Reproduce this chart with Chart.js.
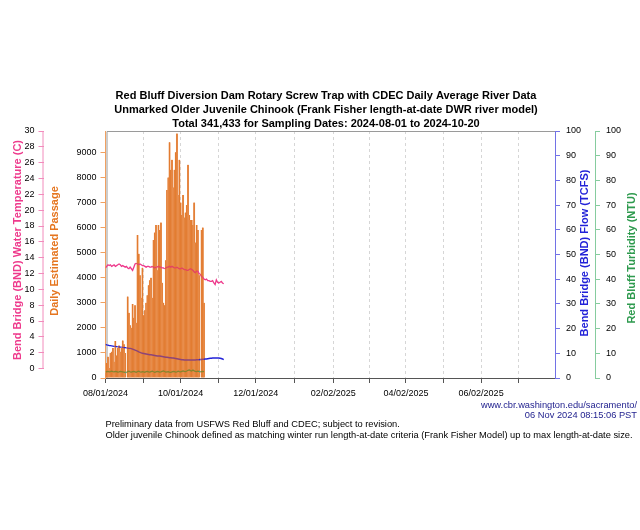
<!DOCTYPE html>
<html>
<head>
<meta charset="utf-8">
<title>Red Bluff RST - Older Juvenile Chinook</title>
<script src="https://cdn.jsdelivr.net/npm/chart.js@4.4.1/dist/chart.umd.min.js"></script>
<style>
  html, body { margin: 0; padding: 0; background: #fff; }
  #chart { display: block; }
</style>
</head>
<body>
<canvas id="chart" width="640" height="530"></canvas>
<script>
// Daily values, day 0 = 2024-08-01
const passage = [
  200, 600, 850, 400, 1000, 1050, 1200, 650, 1480, 900,
  1200, 1300, 1050, 1200, 1500, 1350, 1000, 0, 3250, 2600,
  2100, 2000, 2950, 2400, 2900, 2200, 5700, 4950, 4100, 3200,
  4400, 2500, 2700, 3000, 3300, 3700, 3900, 4000, 3200, 5500,
  5800, 6100, 4300, 6100, 5900, 6200, 3800, 3000, 2900, 4700,
  7500, 8000, 9400, 8300, 8700, 7600, 8300, 9000, 9750, 7300,
  8700, 7000, 6500, 7300, 6400, 6600, 6900, 8500, 6500, 6300,
  6300, 6100, 7000, 5400, 6100, 5900, 4100, 0, 5900, 6000,
  3000
];
const waterTemp = [
  12.7, 12.9, 13.1, 13.0, 13.1, 12.9, 13.0, 13.1, 12.9, 13.0,
  13.1, 13.2, 13.1, 12.9, 13.0, 12.9, 12.8, 12.9, 12.7, 12.6,
  12.8, 12.6, 12.4, 12.8, 13.2, 13.3, 13.2, 13.1, 13.2, 13.1,
  13.0, 13.0, 12.9, 12.8, 12.9, 12.9, 12.8, 12.8, 12.9, 12.8,
  12.7, 12.8, 12.8, 12.9, 12.8, 12.8, 12.7, 12.7, 12.6, 12.7,
  12.8, 12.8, 12.9, 12.8, 12.9, 12.8, 12.7, 12.7, 12.8, 12.7,
  12.6, 12.6, 12.7, 12.6, 12.5, 12.5, 12.4, 12.4, 12.5, 12.6,
  12.5, 12.4, 12.2, 12.1, 12.3, 12.3, 12.0, 11.9, 11.6, 11.5,
  11.3, 11.2, 11.3, 11.1, 11.1, 11.0, 11.0, 11.1, 10.8, 10.6,
  11.2, 10.9, 10.8, 10.9, 11.0, 10.8, 10.7
];
const flow = [
  13.6, 13.4, 13.3, 13.1, 13.1, 13.0, 12.9, 12.8, 12.8, 12.7,
  12.6, 12.6, 12.5, 12.5, 12.4, 12.3, 12.3, 12.2, 12.1, 12.0,
  12.0, 11.9, 11.7, 11.5, 11.3, 11.1, 10.9, 10.6, 10.4, 10.2,
  10.0, 9.9, 9.8, 9.7, 9.6, 9.5, 9.4, 9.4, 9.3, 9.2,
  9.1, 9.0, 8.9, 8.9, 8.9, 8.8, 8.7, 8.6, 8.5, 8.4,
  8.4, 8.3, 8.2, 8.2, 8.1, 8.1, 8.0, 7.9, 7.8, 7.7,
  7.6, 7.5, 7.4, 7.4, 7.3, 7.3, 7.3, 7.3, 7.3, 7.3,
  7.3, 7.3, 7.3, 7.3, 7.4, 7.4, 7.4, 7.5, 7.5, 7.6,
  7.6, 7.7, 7.7, 7.8, 7.9, 8.0, 8.0, 8.1, 8.1, 8.1,
  8.1, 8.1, 8.1, 8.0, 7.9, 7.7, 7.4
];
const turbidity = [
  2.4, 2.6, 2.7, 2.5, 2.6, 2.8, 2.6, 2.5, 2.7, 2.6,
  2.4, 2.5, 2.7, 2.6, 2.5, 2.4, 2.3, 2.2, 2.6, 2.8,
  2.5, 2.4, 2.6, 2.7, 2.5, 2.3, 2.6, 2.8, 2.5, 2.4,
  2.6, 2.5, 2.3, 2.6, 2.7, 2.5, 2.4, 2.6, 2.8, 2.5,
  2.3, 2.5, 2.7, 2.6, 2.4, 2.5, 2.7, 2.9, 2.6, 2.4,
  2.5, 2.6, 2.4, 2.3, 2.5, 2.7, 2.6, 2.4, 2.5, 2.8,
  2.6, 2.5, 2.7, 2.9, 2.7, 2.6, 2.8, 3.1, 3.3, 3.0,
  2.8, 3.2, 2.9, 2.7, 2.6, 2.8, 2.7, 2.5, 2.6, 2.7,
  2.6
];

// Axis ticks (x in days since 2024-08-01)
const xTickDays = [0, 30.5, 61, 91.5, 122, 153.5, 185, 214.5, 244, 274.5, 305, 335.5];
const xTickLabels = ['08/01/2024', '', '10/01/2024', '', '12/01/2024', '', '02/02/2025', '', '04/02/2025', '', '06/02/2025', ''];
const passTicks = [0, 1000, 2000, 3000, 4000, 5000, 6000, 7000, 8000, 9000];
const tempTicks = [0, 2, 4, 6, 8, 10, 12, 14, 16, 18, 20, 22, 24, 26, 28, 30];
const flowTicks = [0, 10, 20, 30, 40, 50, 60, 70, 80, 90, 100];
const turbTicks = [0, 10, 20, 30, 40, 50, 60, 70, 80, 90, 100];

const titleLines = [
  'Red Bluff Diversion Dam Rotary Screw Trap with CDEC Daily Average River Data',
  'Unmarked Older Juvenile Chinook (Frank Fisher length-at-date DWR river model)',
  'Total 341,433 for Sampling Dates: 2024-08-01 to 2024-10-20'
];

const FONT = "'Liberation Sans', Arial, Helvetica, sans-serif";
Chart.defaults.font.family = FONT;
Chart.defaults.font.size = 9;
Chart.defaults.color = '#000';

const PINK = '#ee3a8c', ORANGE = '#e5751f', BLUE = '#2222d8', GREEN = '#2e9a4e';

const toPoints = arr => arr.map((v, i) => ({ x: i, y: v }));
const fixedTicks = values => scale => { scale.ticks = values.map(v => ({ value: v })); };
const plainLabel = v => String(v);

let chart;

// line segment sits behind a bar -> use the tinted colour
function tinted(inside, outside) {
  return ctx => {
    if (!chart) return outside;
    const v = passage[ctx.p1DataIndex];
    if (!v) return outside;
    const top = chart.scales.yPass.getPixelForValue(v);
    return top <= Math.min(ctx.p0.y, ctx.p1.y) ? inside : outside;
  };
}

function text(ctx, str, x, y, opts) {
  ctx.save();
  ctx.font = opts.font;
  ctx.fillStyle = opts.color || '#000';
  ctx.textAlign = opts.align || 'center';
  ctx.textBaseline = 'middle';
  ctx.translate(x, y);
  if (opts.rotate) ctx.rotate(opts.rotate);
  ctx.fillText(str, 0, 0);
  ctx.restore();
}

const decorations = {
  id: 'decorations',
  beforeDatasetsDraw(c) {
    const { ctx, chartArea: a } = c;
    ctx.save();
    ctx.strokeStyle = '#9a9a9a';
    ctx.lineWidth = 1;
    ctx.beginPath();
    ctx.moveTo(a.left + 1.5, a.bottom);
    ctx.lineTo(a.left + 1.5, a.top + 0.5);
    ctx.lineTo(a.right, a.top + 0.5);
    ctx.stroke();
    // temperature axis line, only over its tick range
    const t = c.scales.yTemp;
    ctx.strokeStyle = '#f28cbc';
    ctx.beginPath();
    ctx.moveTo(t.right - 0.5, t.getPixelForValue(0));
    ctx.lineTo(t.right - 0.5, t.getPixelForValue(30));
    ctx.stroke();
    ctx.restore();
  },
  afterDraw(c) {
    const ctx = c.ctx;
    const bold = 'bold 11px ' + FONT;
    const reg = '9.3px ' + FONT;
    titleLines.forEach((s, i) => text(ctx, s, 326, 96 + i * 13.8, { font: bold }));
    text(ctx, 'Bend Bridge (BND) Water Temperature (C)', 18, 250, { font: bold, color: PINK, rotate: -Math.PI / 2 });
    text(ctx, 'Daily Estimated Passage', 55, 251, { font: bold, color: ORANGE, rotate: -Math.PI / 2 });
    text(ctx, 'Bend Bridge (BND) Flow (TCFS)', 585, 253, { font: bold, color: BLUE, rotate: -Math.PI / 2 });
    text(ctx, 'Red Bluff Turbidity (NTU)', 632, 258, { font: bold, color: GREEN, rotate: -Math.PI / 2 });
    text(ctx, 'www.cbr.washington.edu/sacramento/', 637, 405, { font: reg, color: '#1c1c8c', align: 'right' });
    text(ctx, '06 Nov 2024 08:15:06 PST', 637, 415.5, { font: reg, color: '#1c1c8c', align: 'right' });
    text(ctx, 'Preliminary data from USFWS Red Bluff and CDEC; subject to revision.', 105.5, 424.5, { font: reg, align: 'left' });
    text(ctx, 'Older juvenile Chinook defined as matching winter run length-at-date criteria (Frank Fisher Model) up to max length-at-date size.', 105.5, 435.5, { font: reg, align: 'left' });
  }
};

chart = new Chart(document.getElementById('chart'), {
  type: 'bar',
  data: {
    datasets: [
      {
        type: 'bar',
        label: 'Daily Estimated Passage',
        data: toPoints(passage),
        xAxisID: 'x',
        yAxisID: 'yPass',
        backgroundColor: '#e27b30',
        borderColor: '#eea06a',
        borderWidth: { left: 0.4, right: 0.4, top: 0, bottom: 0 },
        barThickness: 1.5,
        order: 2
      },
      {
        type: 'line',
        label: 'Water Temperature',
        data: toPoints(waterTemp),
        xAxisID: 'x',
        yAxisID: 'yTemp',
        borderColor: PINK,
        borderWidth: 1.3,
        pointRadius: 0,
        segment: { borderColor: tinted('#e3465e', PINK) },
        order: 1
      },
      {
        type: 'line',
        label: 'Flow',
        data: toPoints(flow),
        xAxisID: 'x',
        yAxisID: 'yFlow',
        borderColor: BLUE,
        borderWidth: 1.4,
        pointRadius: 0,
        segment: { borderColor: tinted('#8c4478', BLUE) },
        order: 1
      },
      {
        type: 'line',
        label: 'Turbidity',
        data: toPoints(turbidity),
        xAxisID: 'x',
        yAxisID: 'yTurb',
        borderColor: '#3aa88a',
        borderWidth: 1.2,
        pointRadius: 0,
        segment: { borderColor: tinted('#84862e', '#3aa88a') },
        order: 1
      }
    ]
  },
  options: {
    responsive: false,
    devicePixelRatio: 1,
    animation: false,
    layout: { padding: { top: 131, left: 0, right: 0, bottom: 0 } },
    plugins: { legend: { display: false }, tooltip: { enabled: false } },
    scales: {
      x: {
        type: 'linear',
        position: 'bottom',
        min: 0,
        max: 365,
        offset: false,
        afterBuildTicks: fixedTicks(xTickDays),
        afterFit: s => { s.height = 152; },
        ticks: {
          autoSkip: false,
          maxRotation: 0,
          padding: 5,
          callback: (v, i) => xTickLabels[i]
        },
        grid: { offset: false, color: '#d6d6d6', tickLength: 5, tickColor: '#555', tickBorderDash: [] },
        border: { color: '#555', dash: [3, 3] }
      },
      yPass: {
        type: 'linear',
        position: 'left',
        weight: 0,
        min: 0,
        max: 9850,
        afterBuildTicks: fixedTicks(passTicks),
        afterFit: s => { s.width = 62; },
        ticks: { padding: 4, callback: plainLabel },
        grid: { drawOnChartArea: false, tickLength: 5, tickColor: '#f0a060' },
        border: { color: '#f0a060' }
      },
      yTemp: {
        type: 'linear',
        position: 'left',
        weight: 1,
        min: -1.2,
        max: 30,
        afterBuildTicks: fixedTicks(tempTicks),
        afterFit: s => { s.width = 43.5; },
        ticks: { padding: 4, callback: plainLabel },
        grid: { drawOnChartArea: false, tickLength: 5, tickColor: '#f28cbc' },
        border: { display: false }
      },
      yFlow: {
        type: 'linear',
        position: 'right',
        weight: 0,
        min: 0,
        max: 100,
        afterBuildTicks: fixedTicks(flowTicks),
        afterFit: s => { s.width = 40; },
        ticks: { padding: 6, callback: plainLabel },
        grid: { drawOnChartArea: false, tickLength: 5, tickColor: '#7272e6' },
        border: { color: '#7272e6' }
      },
      yTurb: {
        type: 'linear',
        position: 'right',
        weight: 1,
        min: 0,
        max: 100,
        afterBuildTicks: fixedTicks(turbTicks),
        afterFit: s => { s.width = 45; },
        ticks: { padding: 6, callback: plainLabel },
        grid: { drawOnChartArea: false, tickLength: 5, tickColor: '#86cc9e' },
        border: { color: '#86cc9e' }
      }
    }
  },
  plugins: [decorations]
});
chart.update();
</script>
</body>
</html>
